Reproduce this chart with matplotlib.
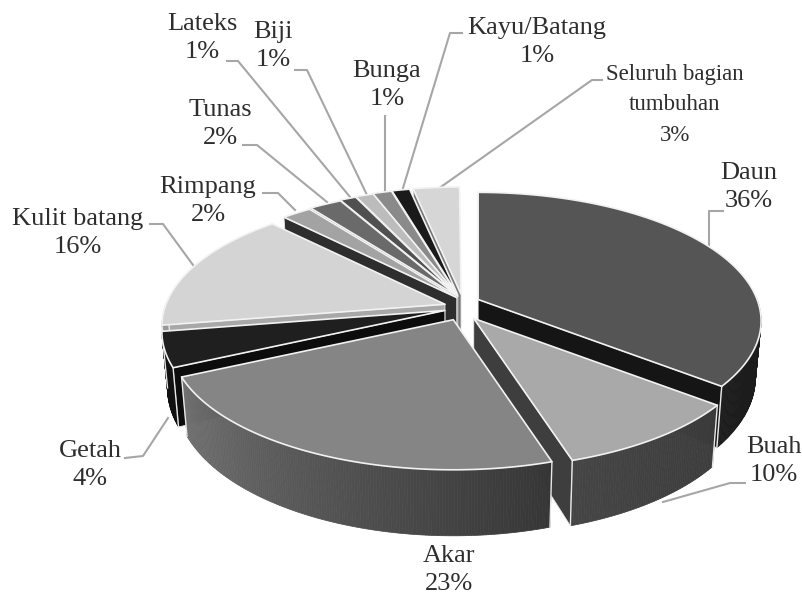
import numpy as np
from matplotlib import pyplot as plt
from matplotlib.colors import to_rgb
from matplotlib.patches import Polygon

# shares, the printed labels are rounded
names = ['Daun', 'Buah', 'Akar', 'Getah', 'Kulit batang', 'Rimpang', 'Tunas',
         'Lateks', 'Biji', 'Bunga', 'Kayu/Batang', 'Seluruh bagian\ntumbuhan']
shares = [35.7, 9.5, 22.8, 4.4, 15.4, 2.0, 2.2, 1.1, 1.2, 1.3, 1.2, 3.1]
pct_labels = ['36%', '10%', '23%', '4%', '16%', '2%', '2%', '1%', '1%', '1%', '1%', '3%']

top_colors = ['#555555', '#a9a9a9', '#858585', '#1f1f1f', '#d4d4d4', '#a3a3a3',
              '#6a6a6a', '#505050', '#bcbcbc', '#8a8a8a', '#1a1a1a', '#d6d6d6']
wall_left = ['#1c1c1c', '#454545', '#727272', '#111111', '#999999', '#555555',
             '#333333', '#2a2a2a', '#666666', '#444444', '#0a0a0a', '#777777']
wall_right = ['#1c1c1c', '#3c3c3c', '#363636', '#111111', '#999999', '#555555',
              '#333333', '#2a2a2a', '#666666', '#444444', '#0a0a0a', '#777777']
face_colors = ['#151515', '#3e3e3e', '#4a4a4a', '#0c0c0c', '#a8a8a8', '#2e2e2e',
               '#333333', '#2a2a2a', '#666666', '#444444', '#0a0a0a', '#777777']

label_xy = [(749, 187), (774, 461), (449, 570), (90, 465), (78, 233), (208, 201),
            (220, 124), (202, 38), (273, 46), (387, 85), (537, 42), (675, 105)]
label_sizes = [19, 19, 19, 19, 19, 19, 19, 19, 19, 19, 19, 16.5]

leaders = [
    [(723, 211), (709, 211), (709, 245)],
    [(745, 483), (730, 483), (663, 502)],
    [(125, 458), (143, 456), (168, 418)],
    [(150, 224), (163, 224), (193, 265)],
    [(263, 193), (278, 193), (295, 210)],
    [(243, 145), (257, 145), (327, 202)],
    [(227, 61), (238, 61), (350, 197)],
    [(295, 70), (307, 70), (367, 195)],
    [(385, 116), (385, 193)],
    [(462, 33), (450, 33), (403, 188)],
    [(602, 80), (592, 80), (438, 189)],
]

# pie geometry in image pixels
cx, cy = 463, 306
rx, ry = 279, 125
persp = 0.167
depth = 55
blow_x, blow_y = 19, 15
bottom_shrink = 0.98
# small extra shift of single slices
nudge_x = [-2, 0, -2, 0, 0, 6, 5, 3, 2, 0, -1, 0]
nudge_y = [0, 0, 0, 0, 3, 3, 3, 3, 3, 3, 3, 3]
# painter order, back to front
draw_order = [11, 10, 9, 8, 7, 6, 5, 4, 0, 3, 1, 2]


def rim(apex, theta, lower=False):
    # theta clockwise from 12 o'clock, u is positive towards the viewer
    s, u = np.sin(theta), -np.cos(theta)
    k = 1 / (1 - persp * u)
    x, y = rx * s * k, ry * u * k
    if lower:
        return np.column_stack([apex[0] + x * bottom_shrink, apex[1] + y + depth * k])
    return np.column_stack([apex[0] + x, apex[1] + y])


fig = plt.figure(figsize=(8.03, 5.99), dpi=100)
ax = fig.add_axes([0, 0, 1, 1])
ax.set_xlim(0, 803)
ax.set_ylim(599, 0)
ax.axis('off')

edges = np.radians(np.concatenate([[0], np.cumsum(shares)]) * 3.6)

for i in draw_order:
    t0, t1 = edges[i], edges[i + 1]
    mid = (t0 + t1) / 2
    apex = (cx + blow_x * np.sin(mid) + nudge_x[i], cy - blow_y * np.cos(mid) + nudge_y[i])
    apex_low = (apex[0], apex[1] + depth)
    z = 10 + draw_order.index(i) * 3
    ts = np.linspace(t0, t1, max(int(np.degrees(t1 - t0) * 2), 4))
    top = rim(apex, ts)

    # cut faces, only where the top lies above the edge
    mid_pt = rim(apex, np.array([mid]))[0]
    for t in (t0, t1):
        p = rim(apex, np.array([t]))[0]
        q = rim(apex, np.array([t]), lower=True)[0]
        if abs(p[0] - apex[0]) < 1:
            continue
        edge_y = apex[1] + (p[1] - apex[1]) * (mid_pt[0] - apex[0]) / (p[0] - apex[0])
        if mid_pt[1] < edge_y:
            ax.add_patch(Polygon([apex, p, q, apex_low], closed=True, fc=face_colors[i],
                                 ec='#e8e8e8', lw=0.6, zorder=z))

    # outer wall, front half only, shaded strip by strip
    vis = ts[-np.cos(ts) >= -0.02]
    if len(vis) > 1:
        upper, lower = rim(apex, vis), rim(apex, vis, lower=True)
        c0, c1 = np.array(to_rgb(wall_left[i])), np.array(to_rgb(wall_right[i]))
        for j in range(len(vis) - 1):
            f = 1 - j / (len(vis) - 2) if len(vis) > 2 else 0.5
            col = c0 * (1 - f) + c1 * f
            ax.add_patch(Polygon([upper[j], upper[j + 1], lower[j + 1], lower[j]], closed=True,
                                 fc=col, ec=col, lw=0.5, zorder=z + 1))
        for end in (0, -1):
            ax.plot([upper[end][0], lower[end][0]], [upper[end][1], lower[end][1]],
                    color='#e8e8e8', lw=1.0, zorder=z + 1)

    ax.add_patch(Polygon(np.vstack([[apex], top]), closed=True, fc=top_colors[i],
                         ec='#f2f2f2', lw=1.2, joinstyle='round', zorder=z + 2))

for pts in leaders:
    xs, ys = zip(*pts)
    ax.plot(xs, ys, color='#a6a6a6', lw=1.5, zorder=5)

for name, pct, (x, y), size in zip(names, pct_labels, label_xy, label_sizes):
    ax.text(x, y, name + '\n' + pct, ha='center', va='center', family='Liberation Serif',
            fontsize=size, color='#2e2e2e', linespacing=1.32 if size > 17 else 1.6, zorder=60)

fig.savefig('out.png', dpi=100)
